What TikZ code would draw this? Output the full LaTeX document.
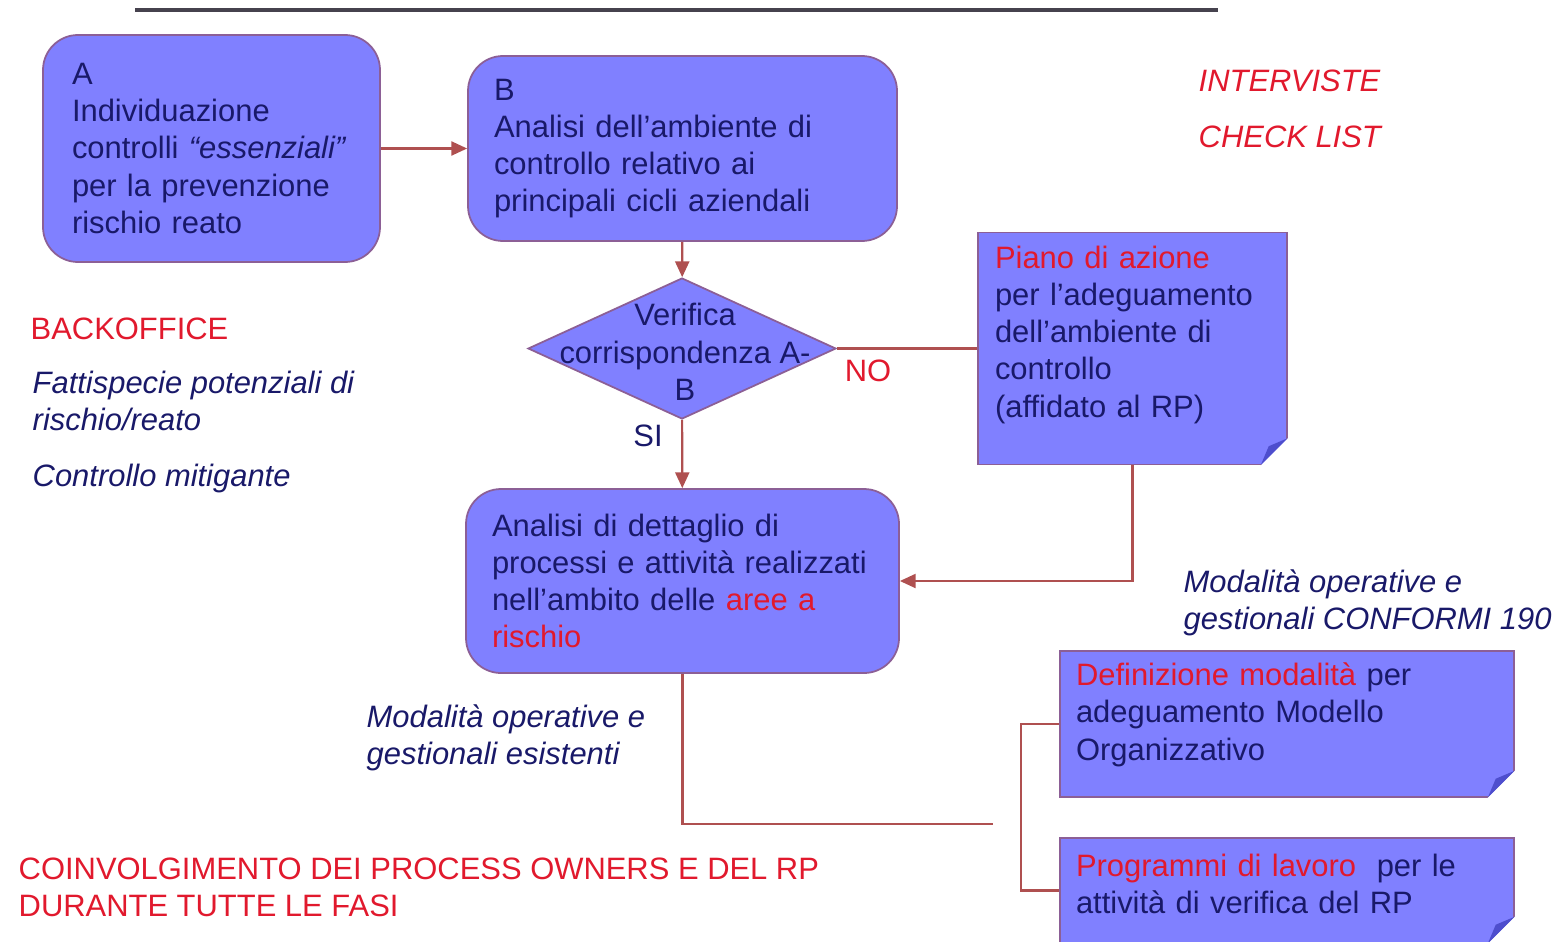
\documentclass[tikz,border=0pt]{standalone}
\usepackage{fontspec}
\setmainfont{Liberation Sans}
\usetikzlibrary{arrows.meta, shapes.geometric}
\definecolor{boxblue}{RGB}{128,128,255}
\definecolor{foldblue}{RGB}{78,78,205}
\definecolor{boxedge}{RGB}{140,95,150}
\definecolor{navy}{RGB}{25,25,105}
\definecolor{hotred}{RGB}{225,25,45}
\definecolor{linkred}{RGB}{175,80,80}
\definecolor{rulegray}{RGB}{70,66,78}

\tikzset{
  txt/.style={font=\fontsize{8.8}{10.6}\selectfont, text=navy},
  rbox/.style={txt, rectangle, rounded corners=0.35cm, fill=boxblue, draw=boxedge, line width=0.5pt, align=left},
  fbox/.style={txt, rectangle, fill=boxblue, draw=boxedge, line width=0.4pt, align=left},
  link/.style={draw=linkred, line width=0.6pt},
  note/.style={txt, anchor=west, align=left, inner sep=0pt},
}

\begin{document}
\begin{tikzpicture}
    \useasboundingbox (0,0) rectangle (15.6,-9.41);
    \clip (0,0) rectangle (15.6,-9.41);

    \draw[rulegray, line width=1.1pt] (1.35,-0.10) -- (12.18,-0.10);

    % main boxes
    \node[rbox, text width=2.79cm, inner xsep=0.29cm, minimum height=2.27cm] at (2.115,-1.485) (A)
        {A\\Individuazione\\controlli \textit{“essenziali”}\\per la prevenzione\\rischio reato};
    \node[rbox, text width=3.77cm, inner xsep=0.26cm, minimum height=1.85cm] at (6.825,-1.485) (B)
        {B\\Analisi dell'ambiente di\\controllo relativo ai\\principali cicli aziendali};
    \node[diamond, fill=boxblue, draw=boxedge, line width=0.5pt, inner sep=0pt,
          minimum width=3.08cm, minimum height=1.41cm] at (6.82,-3.485) (chk) {};
    \node[txt, align=center] at (6.85,-3.52) (chktxt) {Verifica\\corrispondenza A-\\B};
    \node[rbox, text width=3.81cm, inner xsep=0.26cm, minimum height=1.84cm] at (6.825,-5.81) (C)
        {Analisi di dettaglio di\\processi e attività realizzati\\nell'ambito delle \textcolor{hotred}{aree a}\\\textcolor{hotred}{rischio}};

    % folded notes
    \node[fbox, text width=2.75cm, inner xsep=0.17cm, minimum height=2.32cm] at (11.325,-3.485) (P)
        {\textcolor{hotred}{Piano di azione}\\per l'adeguamento\\dell'ambiente di\\controllo\\(affidato al RP)\rule[-0.34cm]{0pt}{0.34cm}};
    \node[fbox, text width=4.22cm, inner xsep=0.16cm, minimum height=1.46cm] at (12.87,-7.24) (D)
        {\textcolor{hotred}{Definizione modalità} per\\adeguamento Modello\\Organizzativo\rule[-0.25cm]{0pt}{0.25cm}};
    \node[fbox, text width=4.22cm, inner xsep=0.16cm, minimum height=1.05cm] at (12.87,-8.905) (E)
        {\textcolor{hotred}{Programmi di lavoro}\ \ per le\\attività di verifica del RP\rule[-0.14cm]{0pt}{0.14cm}};
    \foreach \n in {P,D,E} {
        \fill[white] ([xshift=-0.27cm]\n.south east) -- ([xshift=0.05cm,yshift=-0.05cm]\n.south east) -- ([yshift=0.27cm]\n.south east) -- cycle;
        \fill[foldblue] ([xshift=-0.27cm]\n.south east) -- ([yshift=0.27cm]\n.south east) -- ([xshift=-0.19cm,yshift=0.19cm]\n.south east) -- cycle;
    }

    % side labels
    \node[note, text=hotred, font=\fontsize{8.8}{10.6}\selectfont\itshape] at (11.98,-0.81) (intv) {INTERVISTE};
    \node[note, text=hotred, font=\fontsize{8.8}{10.6}\selectfont\itshape] at (11.98,-1.37) (chkl) {CHECK LIST};
    \node[note, text=hotred] at (0.30,-3.29) (bo) {BACKOFFICE};
    \node[note, font=\fontsize{8.8}{10.6}\selectfont\itshape] at (0.32,-4.01) (fatt) {Fattispecie potenziali di\\rischio/reato};
    \node[note, font=\fontsize{8.8}{10.6}\selectfont\itshape] at (0.32,-4.78) (mitig) {Controllo mitigante};
    \node[note, font=\fontsize{8.8}{10.6}\selectfont\itshape] at (11.83,-6.03) (conf) {Modalità operative e\\gestionali CONFORMI 190};
    \node[note, font=\fontsize{8.8}{10.6}\selectfont\itshape] at (3.66,-7.38) (esist) {Modalità operative e\\gestionali esistenti};
    \node[note, text=hotred] at (0.18,-8.87) (coinv) {COINVOLGIMENTO DEI PROCESS OWNERS E DEL RP\\DURANTE TUTTE LE FASI};
    \node[txt, text=hotred] at (8.68,-3.71) (no) {NO};
    \node[txt] at (6.48,-4.36) (si) {SI};

    % connectors
    \coordinate (joint) at (9.93,-8.24);
    \draw[link, -{Triangle[length=4.5pt, width=4pt]}] (A) -- (B);
    \draw[link, -{Triangle[length=4.5pt, width=4pt]}] (B) -- (chk);
    \draw[link, -{Triangle[length=4.5pt, width=4pt]}] (chk) -- (C);
    \draw[link] (chk.east) -- (P.west);
    \draw[link, -{Triangle[length=4.5pt, width=4pt]}] (P.south) |- (C.east);
    \draw[link] (C.south) |- (joint);
    \draw[link] (D.west) -- ++(-0.38,0) |- (E.west);
\end{tikzpicture}
\end{document}
